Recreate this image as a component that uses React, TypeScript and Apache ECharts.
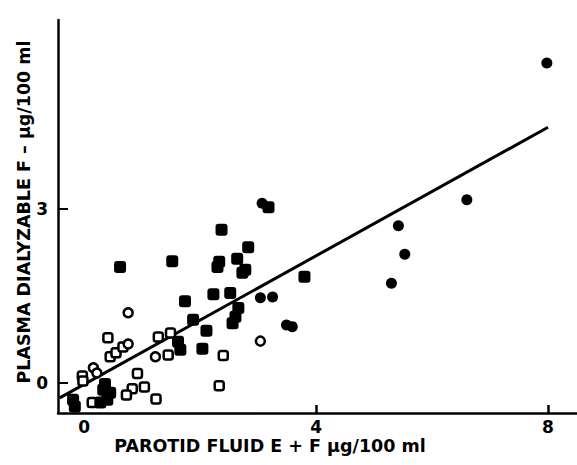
import React, { useEffect, useRef } from "react";
import * as echarts from "echarts";

// Filled circles [x, y]
const filledCircles: number[][] = [
  [7.98, 5.52], [6.6, 3.16], [5.42, 2.71], [5.53, 2.22], [5.3, 1.72],
  [3.07, 3.1], [3.04, 1.47], [3.25, 1.48], [3.49, 1.0], [3.59, 0.97],
];

// Filled squares [x, y]
const filledSquares: number[][] = [
  [3.18, 3.03], [2.37, 2.64], [2.83, 2.34], [0.62, 2.0], [1.52, 2.1],
  [2.33, 2.09], [2.3, 2.0], [2.64, 2.14], [2.78, 1.95], [2.73, 1.9],
  [3.8, 1.83], [1.74, 1.41], [2.23, 1.53], [2.52, 1.55], [1.88, 1.09],
  [2.11, 0.9], [2.66, 1.29], [2.61, 1.14], [2.56, 1.03], [2.04, 0.59],
  [1.62, 0.71], [1.66, 0.57], [0.33, -0.12], [0.45, -0.17], [0.4, -0.29],
  [0.28, -0.34], [0.36, -0.02], [-0.19, -0.29], [-0.16, -0.41],
];

// Open squares [x, y]
const openSquares: number[][] = [
  [0.41, 0.78], [1.28, 0.79], [1.49, 0.86], [2.4, 0.47], [2.33, -0.05],
  [1.45, 0.48], [0.92, 0.16], [0.83, -0.1], [1.04, -0.07], [0.73, -0.21],
  [1.24, -0.28], [0.14, -0.34], [-0.03, 0.12], [-0.02, 0.03], [0.45, 0.45],
  [0.55, 0.52], [0.67, 0.62],
];

// Open circles [x, y]
const openCircles: number[][] = [
  [0.76, 1.21], [3.04, 0.72], [1.23, 0.45], [0.16, 0.26], [0.22, 0.17],
  [0.76, 0.67],
];

// Regression line end points
const regressionLine: number[][] = [
  [-0.42, -0.26], [8.0, 4.41],
];

const xTickLabels = [0, 4, 8];
const xTickMarks = [4, 8];
const yTickLabels = [0, 3];

const xTitle = "PAROTID FLUID E + F \u03BCg/100 ml";
const yTitle = "PLASMA DIALYZABLE F \u2013 \u03BCg/100 ml";

const FONT = "DejaVu Sans";

export default function App() {
  const ref = useRef<HTMLDivElement>(null);
  useEffect(() => {
    if (!ref.current) return;
    const chart = echarts.init(ref.current, null, { renderer: "svg" });
    const openStyle = { color: "#fff", borderColor: "#000", borderWidth: 2.5, opacity: 1 };
    const filledStyle = { color: "#000", opacity: 1 };
    chart.setOption({
      animation: false,
      backgroundColor: "#fff",
      grid: { left: 58, right: 0, top: 20, bottom: 52 },
      xAxis: {
        type: "value",
        min: -0.45,
        max: 8.5,
        splitLine: { show: false },
        axisLine: { onZero: false, lineStyle: { color: "#000", width: 2.5 } },
        axisTick: {
          show: true,
          inside: true,
          length: 8,
          customValues: xTickMarks,
          lineStyle: { color: "#000", width: 2.5 },
        },
        axisLabel: {
          customValues: xTickLabels,
          margin: 5,
          color: "#000",
          fontFamily: FONT,
          fontWeight: "bold",
          fontSize: 17,
        },
      },
      yAxis: {
        type: "value",
        min: -0.52,
        max: 6.26,
        splitLine: { show: false },
        axisLine: { onZero: false, lineStyle: { color: "#000", width: 2.5 } },
        axisTick: {
          show: true,
          inside: true,
          length: 10,
          customValues: yTickLabels,
          lineStyle: { color: "#000", width: 2 },
        },
        axisLabel: {
          customValues: yTickLabels,
          margin: 10,
          color: "#000",
          fontFamily: FONT,
          fontWeight: "bold",
          fontSize: 17,
        },
      },
      graphic: [
        {
          type: "text",
          x: 270,
          y: 446,
          style: {
            text: xTitle,
            fill: "#000",
            font: `bold 17.5px "${FONT}"`,
            align: "center",
            verticalAlign: "middle",
          },
        },
        {
          type: "text",
          x: 24,
          y: 212,
          rotation: Math.PI / 2,
          style: {
            text: yTitle,
            fill: "#000",
            font: `bold 17.5px "${FONT}"`,
            align: "center",
            verticalAlign: "middle",
          },
        },
      ],
      series: [
        {
          type: "line",
          data: regressionLine,
          showSymbol: false,
          symbol: "none",
          lineStyle: { color: "#000", width: 3 },
          z: 1,
        },
        {
          type: "scatter",
          data: openSquares,
          symbol: "roundRect",
          symbolSize: 9,
          itemStyle: openStyle,
          z: 2,
        },
        {
          type: "scatter",
          data: openCircles,
          symbol: "circle",
          symbolSize: 9,
          itemStyle: openStyle,
          z: 2,
        },
        {
          type: "scatter",
          data: filledSquares,
          symbol: "roundRect",
          symbolSize: 12,
          itemStyle: filledStyle,
          z: 3,
        },
        {
          type: "scatter",
          data: filledCircles,
          symbol: "circle",
          symbolSize: 11,
          itemStyle: filledStyle,
          z: 3,
        },
      ],
    });
    return () => chart.dispose();
  }, []);
  return <div ref={ref} style={{ width: 577, height: 465, position: "absolute", left: 0, top: 0 }} />;
}
